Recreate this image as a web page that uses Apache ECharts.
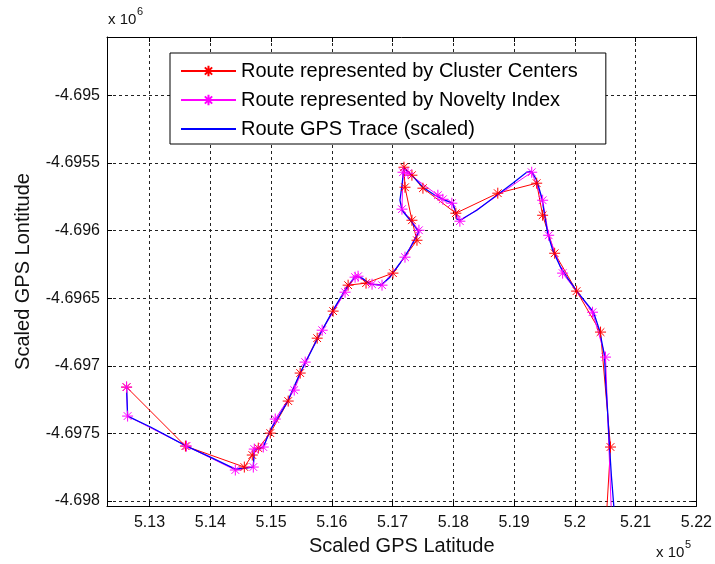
<!DOCTYPE html>
<html>
<head>
<meta charset="utf-8">
<script src="https://cdn.jsdelivr.net/npm/echarts@6/dist/echarts.min.js"></script>
<style>
html,body{margin:0;padding:0;background:#fff;}
#chart{width:715px;height:564px;}
</style>
</head>
<body>
<div id="chart"></div>
<script>
// Axis ticks (x in units of 1e5, y in units of 1e6)
const xTickValues = [5.13, 5.14, 5.15, 5.16, 5.17, 5.18, 5.19, 5.20, 5.21, 5.22];
const xTickLabels = ['5.13', '5.14', '5.15', '5.16', '5.17', '5.18', '5.19', '5.2', '5.21', '5.22'];
const yTickValues = [-4.698, -4.6975, -4.697, -4.6965, -4.696, -4.6955, -4.695];
const yTickLabels = ['-4.698', '-4.6975', '-4.697', '-4.6965', '-4.696', '-4.6955', '-4.695'];
const xRange = [5.1230, 5.2200];
const yRange = [-4.698037, -4.694569];

const seriesNames = ['Route represented by Cluster Centers', 'Route represented by Novelty Index', 'Route GPS Trace (scaled)'];

// Route represented by Cluster Centers
const clusterRoute = [
  [5.12622, -4.697158], [5.13591, -4.697594], [5.14560, -4.697749], [5.14691, -4.697660],
  [5.14790, -4.697609], [5.14987, -4.697498], [5.15282, -4.697261], [5.15479, -4.697054],
  [5.15759, -4.696796], [5.16021, -4.696596], [5.16268, -4.696404], [5.16563, -4.696389],
  [5.17006, -4.696315], [5.17401, -4.696072], [5.17318, -4.695924], [5.17204, -4.695680],
  [5.17187, -4.695532], [5.17318, -4.695591], [5.17499, -4.695687], [5.18041, -4.695872],
  [5.18731, -4.695724], [5.19371, -4.695650], [5.19469, -4.695887], [5.19667, -4.696168],
  [5.20028, -4.696448], [5.20422, -4.696751], [5.20586, -4.697601], [5.20520, -4.698104]
];

// Route represented by Novelty Index
const noveltyRoute = [
  [5.12622, -4.697158], [5.12639, -4.697372], [5.13608, -4.697594], [5.14412, -4.697771],
  [5.14708, -4.697749], [5.14724, -4.697616], [5.14872, -4.697601], [5.15069, -4.697394],
  [5.15381, -4.697180], [5.15562, -4.696973], [5.15841, -4.696737], [5.16218, -4.696456],
  [5.16383, -4.696345], [5.16432, -4.696338], [5.16662, -4.696397], [5.16826, -4.696404],
  [5.17204, -4.696197], [5.17433, -4.695998], [5.17154, -4.695842], [5.17171, -4.695569],
  [5.17253, -4.695576], [5.17745, -4.695739], [5.17827, -4.695769], [5.17975, -4.695798],
  [5.18107, -4.695931], [5.19289, -4.695569], [5.19469, -4.695776], [5.19568, -4.696035],
  [5.19798, -4.696315], [5.20290, -4.696604], [5.20504, -4.696936], [5.20602, -4.698104]
];

// Route GPS Trace (scaled)
const gpsTrace = [
  [5.12622, -4.697158], [5.12639, -4.697372], [5.13016, -4.697453], [5.13608, -4.697594],
  [5.14002, -4.697675], [5.14412, -4.697764], [5.14708, -4.697749], [5.14724, -4.697623],
  [5.14872, -4.697601], [5.14987, -4.697476], [5.15118, -4.697380], [5.15266, -4.697269],
  [5.15479, -4.697054], [5.15726, -4.696833], [5.16021, -4.696589], [5.16218, -4.696441],
  [5.16383, -4.696338], [5.16497, -4.696352], [5.16629, -4.696397], [5.16809, -4.696404],
  [5.16957, -4.696345], [5.17121, -4.696242], [5.17286, -4.696131], [5.17433, -4.696012],
  [5.17318, -4.695939], [5.17154, -4.695850], [5.17121, -4.695776], [5.17154, -4.695665],
  [5.17187, -4.695539], [5.17204, -4.695525], [5.17318, -4.695591], [5.17499, -4.695680],
  [5.17696, -4.695739], [5.17827, -4.695769], [5.17992, -4.695798], [5.18041, -4.695865],
  [5.18057, -4.695916], [5.18107, -4.695924], [5.18386, -4.695850], [5.18714, -4.695739],
  [5.18977, -4.695650], [5.19207, -4.695569], [5.19289, -4.695562], [5.19371, -4.695628],
  [5.19453, -4.695754], [5.19502, -4.695887], [5.19552, -4.696020], [5.19634, -4.696145],
  [5.19765, -4.696271], [5.19880, -4.696352], [5.20044, -4.696456], [5.20176, -4.696530],
  [5.20307, -4.696604], [5.20405, -4.696737], [5.20488, -4.696929], [5.20504, -4.697106],
  [5.20537, -4.697328], [5.20570, -4.697601], [5.20602, -4.697823], [5.20652, -4.698104]
];

const FONT = 'Liberation Sans, Arial, sans-serif';
const STAR = 'path://M5,0L5,10M0,5L10,5M1.5,1.5L8.5,8.5M1.5,8.5L8.5,1.5';

function lookup(vals, labels, v) {
  for (let i = 0; i < vals.length; i++) {
    if (Math.abs(vals[i] - v) < 1e-7) return labels[i];
  }
  return '';
}

const gridLine = { show: true, lineStyle: { color: '#222', type: [3, 3], width: 1 } };
const frameLine = { show: true, onZero: false, lineStyle: { color: '#000', width: 1 } };

const chart = echarts.init(document.getElementById('chart'), null, { renderer: 'canvas' });
chart.setOption({
  animation: false,
  backgroundColor: '#fff',
  grid: { left: 107, right: 17, top: 37, bottom: 58, containLabel: false },
  legend: {
    data: [
      { name: seriesNames[0] },
      { name: seriesNames[1] },
      { name: seriesNames[2], itemStyle: { opacity: 0 } }
    ],
    orient: 'vertical',
    left: 170,
    top: 53,
    backgroundColor: '#fff',
    borderColor: '#000',
    borderWidth: 1,
    borderRadius: 0,
    padding: [8, 28, 5, 10],
    itemGap: 9,
    itemWidth: 55,
    itemHeight: 13,
    textStyle: { fontFamily: FONT, fontSize: 20, color: '#000', lineHeight: 20 }
  },
  xAxis: [
    {
      type: 'value', position: 'bottom', min: xRange[0], max: xRange[1],
      axisLine: frameLine,
      axisTick: { show: true, inside: true, length: 5, customValues: xTickValues, lineStyle: { color: '#000' } },
      axisLabel: {
        customValues: xTickValues, margin: 9, color: '#111', fontFamily: FONT, fontSize: 16,
        formatter: v => lookup(xTickValues, xTickLabels, v)
      },
      splitLine: gridLine,
      name: 'Scaled GPS Latitude', nameLocation: 'middle', nameGap: 30,
      nameTextStyle: { fontFamily: FONT, fontSize: 20, color: '#111' }
    },
    {
      type: 'value', position: 'top', min: xRange[0], max: xRange[1],
      axisLine: frameLine,
      axisTick: { show: true, inside: true, length: 5, customValues: xTickValues, lineStyle: { color: '#000' } },
      axisLabel: { show: false },
      splitLine: { show: false }
    }
  ],
  yAxis: [
    {
      type: 'value', position: 'left', min: yRange[0], max: yRange[1],
      axisLine: frameLine,
      axisTick: { show: true, inside: true, length: 5, customValues: yTickValues, lineStyle: { color: '#000' } },
      axisLabel: {
        customValues: yTickValues, margin: 7, color: '#111', fontFamily: FONT, fontSize: 16,
        formatter: v => lookup(yTickValues, yTickLabels, v)
      },
      splitLine: gridLine,
      name: 'Scaled GPS Lontitude', nameLocation: 'middle', nameGap: 74, nameRotate: 90,
      nameTextStyle: { fontFamily: FONT, fontSize: 20, color: '#111' }
    },
    {
      type: 'value', position: 'right', min: yRange[0], max: yRange[1],
      axisLine: frameLine,
      axisTick: { show: true, inside: true, length: 5, customValues: yTickValues, lineStyle: { color: '#000' } },
      axisLabel: { show: false },
      splitLine: { show: false }
    }
  ],
  graphic: [
    { type: 'text', left: 108, top: 12, style: { text: 'x 10', font: '15px ' + FONT, fill: '#111' } },
    { type: 'text', left: 137, top: 6, style: { text: '6', font: '11px ' + FONT, fill: '#111' } },
    { type: 'text', left: 656, top: 545, style: { text: 'x 10', font: '15px ' + FONT, fill: '#111' } },
    { type: 'text', left: 685, top: 539, style: { text: '5', font: '11px ' + FONT, fill: '#111' } }
  ],
  series: [
    {
      name: seriesNames[0], type: 'line', data: clusterRoute, clip: true,
      symbol: STAR, symbolSize: 11, showSymbol: true,
      lineStyle: { color: '#ff0000', width: 1 },
      itemStyle: { color: '#ff0000', borderColor: '#ff0000', borderWidth: 1 },
      emphasis: { disabled: true }
    },
    {
      name: seriesNames[1], type: 'line', data: noveltyRoute, clip: true,
      symbol: STAR, symbolSize: 11, showSymbol: true,
      lineStyle: { color: '#ff00ff', width: 1 },
      itemStyle: { color: '#ff00ff', borderColor: '#ff00ff', borderWidth: 1 },
      emphasis: { disabled: true }
    },
    {
      name: seriesNames[2], type: 'line', data: gpsTrace, clip: true,
      symbol: 'none',
      lineStyle: { color: '#0000ff', width: 1.3 },
      itemStyle: { color: '#0000ff' },
      emphasis: { disabled: true }
    }
  ]
});
</script>
</body>
</html>
